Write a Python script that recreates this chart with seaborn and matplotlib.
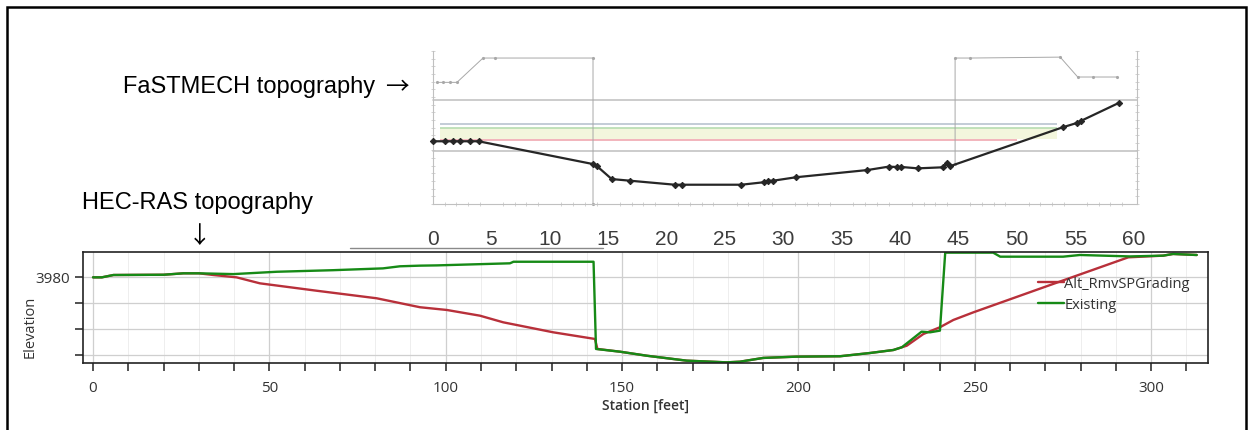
import numpy as np
import pandas as pd
import seaborn as sns
import matplotlib.pyplot as plt
from matplotlib.patches import Rectangle
from matplotlib.lines import Line2D

# ============================================
# DADOS - PERFIL FaSTMECH (painel de cima)
# ============================================
fast_x = [0, 1.0, 1.7, 2.3, 3.2, 3.9, 13.7, 14.0, 15.3, 16.9, 20.7, 21.3, 26.4,
          28.3, 28.7, 29.1, 31.1, 37.2, 39.0, 39.7, 40.1, 41.5, 43.7, 44.0, 44.3,
          53.9, 55.1, 55.5, 58.7]
fast_y = [4.10, 4.10, 4.10, 4.10, 4.10, 4.10, 2.61, 2.50, 1.63, 1.52, 1.26, 1.26, 1.26,
          1.42, 1.52, 1.52, 1.75, 2.22, 2.44, 2.42, 2.42, 2.33, 2.40, 2.70, 2.48,
          5.01, 5.29, 5.44, 6.60]

# linhas de margem (cinza claro) no topo
bank_left_x = [0.34, 0.86, 1.46, 2.05, 4.28, 5.3, 13.7, 13.7]
bank_left_y = [7.95, 7.95, 7.95, 7.95, 9.54, 9.54, 9.54, 0.0]
bank_right_x = [44.7, 44.7, 46.0, 53.7, 55.2, 56.5, 58.6]
bank_right_y = [2.60, 9.54, 9.54, 9.60, 8.30, 8.30, 8.30]

# niveis horizontais
level_gray = [6.80, 3.48]
level_blue = 5.23
level_green = 4.95
level_pink = 4.18

top_ticks = list(range(0, 61, 5))

# ============================================
# DADOS - PERFIL HEC-RAS (painel de baixo)
# ============================================
exist_station = [0, 2.5, 5.8, 20, 25.6, 30, 39.8, 52.1, 68, 82.2, 87, 92.7, 97.5,
                 118.2, 119.2, 141.9, 142.6, 149.4, 157, 168.3, 179.6, 183.4, 190,
                 199.5, 211.8, 220.3, 226.9, 229.3, 234.9, 237.3, 240.1, 241.6,
                 255.2, 257.2, 275, 279.8, 294, 303.4, 306.2, 312.9]
exist_elev = [3979.95, 3979.95, 3980.13, 3980.15, 3980.26, 3980.26, 3980.2, 3980.38,
              3980.5, 3980.64, 3980.8, 3980.85, 3980.87, 3981.03, 3981.15, 3981.15,
              3974.44, 3974.23, 3973.92, 3973.54, 3973.41, 3973.46, 3973.75, 3973.85,
              3973.88, 3974.13, 3974.36, 3974.57, 3975.77, 3975.72, 3975.85, 3981.85,
              3981.85, 3981.54, 3981.54, 3981.67, 3981.56, 3981.62, 3981.75, 3981.67]

alt_station = [0, 2.5, 5.8, 20, 25.6, 30, 34.1, 40.7, 47.3, 63.4, 80.4, 92.7, 100.3,
               109.7, 116.3, 130.5, 142.3, 143.0, 149.4, 157, 168.3, 179.6, 183.4,
               190, 199.5, 211.8, 220.3, 226.9, 230.7, 235.4, 240.1, 243.9, 249.6,
               270.0, 293.5, 303.4, 306.2, 312.9]
alt_elev = [3979.95, 3979.95, 3980.13, 3980.15, 3980.26, 3980.26, 3980.13, 3979.95,
            3979.49, 3978.92, 3978.34, 3977.65, 3977.44, 3977.0, 3976.49, 3975.72,
            3975.21, 3974.44, 3974.23, 3973.92, 3973.54, 3973.41, 3973.46, 3973.75,
            3973.85, 3973.88, 3974.13, 3974.36, 3974.69, 3975.59, 3976.11, 3976.67,
            3977.26, 3979.23, 3981.49, 3981.62, 3981.75, 3981.67]

series_names = ['Alt_RmvSPGrading', 'Existing']
series_colors = ['#b8303a', '#168a16']

df = pd.concat([
    pd.DataFrame({'Station': alt_station, 'Elevation': alt_elev, 'Serie': series_names[0]}),
    pd.DataFrame({'Station': exist_station, 'Elevation': exist_elev, 'Serie': series_names[1]}),
], ignore_index=True)

# ============================================
# FIGURA
# ============================================
sns.set_theme(style='white')
plt.rcParams['font.family'] = ['Open Sans', 'DejaVu Sans']

W, H = 1254, 431
fig = plt.figure(figsize=(W / 100, H / 100), dpi=100)
fig.patch.set_facecolor('white')

def box(x0, y0, x1, y1):
    return [x0 / W, 1 - y1 / H, (x1 - x0) / W, (y1 - y0) / H]

# ---------- painel de cima ----------
ax1 = fig.add_axes(box(433, 52, 1137.3, 205))
ax1.set_xlim(0, 60.3)
ax1.set_ylim(0, 10)

for yv in level_gray:
    ax1.axhline(yv, color='#c4c4c4', lw=1.2, zorder=1)
ax1.fill_between([0.6, 53.4], level_pink + 0.1, level_green, color='#f3f6dd', lw=0, zorder=1)
ax1.hlines(level_blue, 0.6, 53.4, color='#b9c4d0', lw=1.2, zorder=2)
ax1.hlines(level_green, 0.6, 53.4, color='#b6dcb0', lw=1.2, zorder=2)
ax1.hlines(level_pink, 0.6, 50.0, color='#f0a8b0', lw=1.2, zorder=2)

ax1.plot(bank_left_x, bank_left_y, color='#a8a8a8', lw=0.7, marker='.', ms=2.5, zorder=2)
ax1.plot(bank_right_x, bank_right_y, color='#a8a8a8', lw=0.7, marker='.', ms=2.5, zorder=2)

sns.lineplot(x=fast_x, y=fast_y, ax=ax1, color='#262626', lw=1.6, marker='D', ms=3.2,
             markeredgecolor='#262626', estimator=None, sort=False, zorder=4)
for l in ax1.lines:
    l.set_clip_on(False)

ax1.set_xticks(top_ticks)
ax1.set_xticklabels([str(t) for t in top_ticks],
                    fontfamily=['Liberation Sans', 'DejaVu Sans'],
                    fontsize=15, color='#3c3c3c')
ax1.set_xticks(np.arange(0, 60.1, 1), minor=True)
ax1.set_yticks([])
ax1.set_yticks(np.arange(0, 10.01, 0.5), minor=True)
ax1.tick_params(axis='x', which='major', length=4, width=0.6, color='#bbbbbb', pad=14)
ax1.tick_params(axis='both', which='minor', length=3, width=0.6, color='#cccccc',
                direction='inout', left=True, bottom=True, right=True)
ax1.tick_params(axis='y', which='minor', right=True)
ax1.set_xlabel('')
ax1.set_ylabel('')
ax1.spines['top'].set_visible(False)
for s in ['left', 'right', 'bottom']:
    ax1.spines[s].set_color('#c0c0c0')
    ax1.spines[s].set_linewidth(0.8)
    ax1.spines[s].set_linestyle((0, (1.5, 1)))
ax1.patch.set_alpha(0)

# ---------- painel de baixo ----------
ax2 = fig.add_axes(box(83, 253, 1208, 364))
ax2.set_xlim(-2.84, 316.1)
ax2.set_ylim(3973.36, 3981.9)

ax2.set_xticks(range(0, 301, 50))
ax2.set_xticks(range(0, 316, 10), minor=True)
ax2.set_yticks([3974, 3976, 3978, 3980])
ax2.set_yticklabels(['', '', '', '3980'])
ax2.grid(True, which='major', color='#cfcfcf', lw=0.9)
ax2.grid(True, which='minor', axis='x', color='#eeeeee', lw=0.7)
ax2.set_axisbelow(True)

sns.lineplot(data=df, x='Station', y='Elevation', hue='Serie', hue_order=series_names,
             palette=series_colors, estimator=None, sort=False, lw=1.7, ax=ax2)

ax2.tick_params(axis='both', which='both', direction='out', length=6, width=1.1,
                color='#222222', labelsize=11, labelcolor='#333333', bottom=True, left=True)
ax2.tick_params(axis='x', pad=6)
for s in ax2.spines.values():
    s.set_color('#222222')
    s.set_linewidth(1.2)

ax2.set_xlabel('Station [feet]', fontsize=10, fontweight='semibold', color='#333333', labelpad=2)
ax2.set_ylabel('Elevation', fontsize=10.5, color='#333333')
ax2.yaxis.set_label_coords(-0.04, 0.33)

leg = ax2.legend(loc='upper left', bbox_to_anchor=(0.849, 0.785), frameon=False,
                 fontsize=10.5, handlelength=1.8, handletextpad=0.0, borderpad=0,
                 borderaxespad=0, labelspacing=0.45)
for t in leg.get_texts():
    t.set_color('#333333')

# ---------- anotacoes e moldura ----------
fig.text(123 / W, 1 - 87 / H, 'FaSTMECH topography', fontsize=17,
         family=['Liberation Sans', 'DejaVu Sans'], ha='left', va='center', color='black')
fig.text(397 / W, 1 - 88 / H, '\u2192', fontsize=17,
         family=['Noto Sans CJK SC', 'DejaVu Sans'], ha='center', va='center', color='black')
fig.text(82 / W, 1 - 203 / H, 'HEC-RAS topography', fontsize=17,
         family=['Liberation Sans', 'DejaVu Sans'], ha='left', va='center', color='black')
fig.text(200 / W, 1 - 237 / H, '\u2193', fontsize=17,
         family=['Noto Sans CJK SC', 'DejaVu Sans'], ha='center', va='center', color='black')

fig.add_artist(Line2D([350 / W, 603 / W], [1 - 249 / H, 1 - 249 / H],
                      color='#8a8a8a', lw=1.0))
fig.add_artist(Rectangle((7 / W, -0.1), (1246 - 7) / W, 1 - 8 / H + 0.1,
                         transform=fig.transFigure, fill=False, lw=1.8, edgecolor='black'))

fig.savefig('out.png', dpi=100)
plt.close('all')
